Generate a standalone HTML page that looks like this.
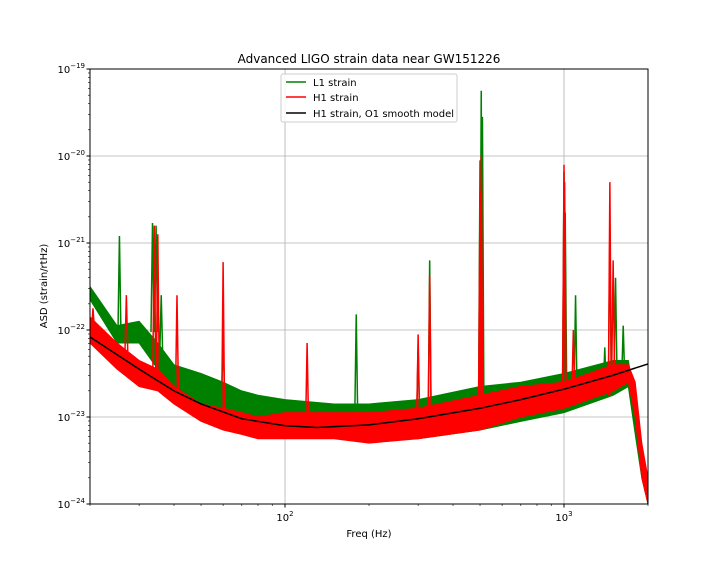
<!DOCTYPE html>
<html><head><meta charset="utf-8"><style>
body{margin:0;background:#fff;font-family:"Liberation Sans","DejaVu Sans",sans-serif;}
svg text{font-family:"DejaVu Sans","Liberation Sans",sans-serif;}
</style></head><body>
<svg id="chart" width="720" height="576" xmlns="http://www.w3.org/2000/svg">
<rect width="720" height="576" fill="#fff"/>
<g id="grid"></g>
<defs><clipPath id="clip"><rect x="90" y="69" width="558" height="435"/></clipPath></defs>
<g id="series" clip-path="url(#clip)"></g>
<rect x="90" y="69" width="558" height="435" fill="none" stroke="#000" stroke-width="1"/>
<g id="ticks"></g>
<text x="369" y="63" text-anchor="middle" font-size="12">Advanced LIGO strain data near GW151226</text>
<text x="369" y="537" text-anchor="middle" font-size="10">Freq (Hz)</text>
<text transform="translate(47,286) rotate(-90)" text-anchor="middle" font-size="10">ASD (strain/rtHz)</text>
<g>
<rect x="281" y="74" width="176" height="48" fill="#fff" fill-opacity="0.85" stroke="#ccc" rx="2"/>
<g><line x1="286" y1="82" x2="306" y2="82" stroke="green" stroke-width="1.5"/><text x="313" y="86" font-size="10">L1 strain</text></g>
<g><line x1="286" y1="97" x2="306" y2="97" stroke="red" stroke-width="1.5"/><text x="313" y="101" font-size="10">H1 strain</text></g>
<g><line x1="286" y1="113" x2="306" y2="113" stroke="#000" stroke-width="1.5"/><text x="313" y="117" font-size="10">H1 strain, O1 smooth model</text></g>
</g>
</svg>
<script>
// Data (log10 of ASD)
const bandFreq = [20,25,30,35,40,50,60,70,80,100,150,200,300,500,700,1000,1500,1700,1800,1900,2000];
const l1High = [-21.5,-21.95,-21.9,-22.15,-22.4,-22.5,-22.6,-22.7,-22.75,-22.8,-22.85,-22.85,-22.8,-22.65,-22.6,-22.5,-22.35,-22.35,-22.8,-23.3,-23.9];
const l1Low  = [-21.65,-22.15,-22.15,-22.45,-22.7,-22.85,-22.95,-23.0,-23.05,-23.1,-23.2,-23.25,-23.25,-23.15,-23.05,-22.95,-22.75,-22.65,-23.2,-23.7,-24.0];
const h1High = [-21.85,-22.15,-22.35,-22.45,-22.65,-22.85,-22.9,-22.95,-23.0,-22.95,-22.95,-22.95,-22.9,-22.75,-22.65,-22.6,-22.4,-22.4,-22.6,-23.3,-23.7];
const h1Low  = [-22.15,-22.45,-22.65,-22.7,-22.85,-23.05,-23.15,-23.2,-23.25,-23.25,-23.25,-23.3,-23.25,-23.15,-23.0,-22.9,-22.7,-22.6,-23.0,-23.7,-24.0];
const l1SpikeFreq = [25.5,33.5,34.5,36,60,180,300,330,500,505,510,1000,1010,1100,1400,1460,1530,1630];
const l1SpikeVal  = [-20.92,-20.77,-20.8,-21.6,-22.1,-21.82,-22.2,-21.2,-20.05,-19.25,-19.55,-20.18,-20.65,-21.6,-22.2,-20.8,-21.4,-21.95];
const h1SpikeFreq = [20.5,27,34,35,41,60,120,300,330,500,505,1000,1005,1080,1460,1500];
const h1SpikeVal  = [-21.75,-21.6,-20.8,-20.9,-21.6,-21.22,-22.15,-22.05,-21.38,-20.4,-20.0,-20.1,-20.3,-22.0,-20.3,-21.2];
const modelFreq = [20,30,40,50,70,100,130,200,300,500,700,1000,1500,2000];
const modelVal  = [-22.08,-22.45,-22.7,-22.85,-23.02,-23.1,-23.12,-23.09,-23.02,-22.9,-22.8,-22.68,-22.52,-22.39];
const yTickExp = [-24,-23,-22,-21,-20,-19];
const xTickVal = [100,1000];

const NS="http://www.w3.org/2000/svg";
const X0=90,X1=648,Y0=504,Y1=69;
const xs=f=>X0+(Math.log10(f)-Math.log10(20))/2*(X1-X0);
const ys=v=>Y0-(v+24)/5*(Y0-Y1);
function mk(tag,attrs,parent){const e=document.createElementNS(NS,tag);for(const k in attrs)e.setAttribute(k,attrs[k]);parent.appendChild(e);return e;}
const grid=document.getElementById('grid'),ser=document.getElementById('series'),ticks=document.getElementById('ticks');

yTickExp.forEach(e=>{
 const y=ys(e);
 const gl=mk('line',{x1:X0,x2:X1,y1:y,y2:y,stroke:'#b0b0b0','stroke-width':0.8},grid);
 
 
 mk('line',{x1:X0-3.5,x2:X0,y1:y,y2:y,stroke:'#000'},ticks);
 const t=mk('text',{x:X0-5,y:y+4,'text-anchor':'end','font-size':10},ticks);
 
 
 t.innerHTML='10<tspan dy="-5" font-size="7">−'+(-e)+'</tspan>';
 if(e<-19)for(let m=2;m<10;m++){const yy=ys(e+Math.log10(m));mk('line',{x1:X0-2,x2:X0,y1:yy,y2:yy,stroke:'#000','stroke-width':0.6},ticks);}
});
xTickVal.forEach(v=>{
 const x=xs(v);
 const gl=mk('line',{x1:x,x2:x,y1:Y1,y2:Y0,stroke:'#b0b0b0','stroke-width':0.8},grid);
 
 
 mk('line',{x1:x,x2:x,y1:Y0,y2:Y0+3.5,stroke:'#000'},ticks);
 const t=mk('text',{x:x,y:Y0+17,'text-anchor':'middle','font-size':10},ticks);
 
 
 t.innerHTML='10<tspan dy="-5" font-size="7">'+Math.round(Math.log10(v))+'</tspan>';
});
[20,30,40,50,60,70,80,90,200,300,400,500,600,700,800,900,2000].forEach(v=>{const x=xs(v);mk('line',{x1:x,x2:x,y1:Y0,y2:Y0+2,stroke:'#000','stroke-width':0.6},ticks);});

function band(hi,lo,color,name){
 let pts=bandFreq.map((f,i)=>xs(f)+','+ys(hi[i]));
 pts=pts.concat(bandFreq.map((f,i)=>xs(f)+','+ys(lo[i])).reverse());
 const p=mk('polygon',{points:pts.join(' '),fill:color,stroke:color,'stroke-width':1},ser);
 
 
}
function spikes(fr,vals,hi,lo,color,name){
 fr.forEach((f,i)=>{
  let k=0;for(let j=0;j<bandFreq.length;j++)if(bandFreq[j]<=f)k=j;
  const base=(hi[k]+lo[k])/2;
  const x=xs(f);
  const p=mk('polyline',{points:(x-1.5)+','+ys(base)+' '+x+','+ys(vals[i])+' '+(x+1.5)+','+ys(base),fill:'none',stroke:color,'stroke-width':1.5},ser);
  
  
 });
}
band(l1High,l1Low,'green','l1-strain-band');
spikes(l1SpikeFreq,l1SpikeVal,l1High,l1Low,'green','l1-spike');
band(h1High,h1Low,'red','h1-strain-band');
spikes(h1SpikeFreq,h1SpikeVal,h1High,h1Low,'red','h1-spike');
const m=mk('polyline',{points:modelFreq.map((f,i)=>xs(f)+','+ys(modelVal[i])).join(' '),fill:'none',stroke:'#000','stroke-width':1.5},ser);


</script>
</body></html>
